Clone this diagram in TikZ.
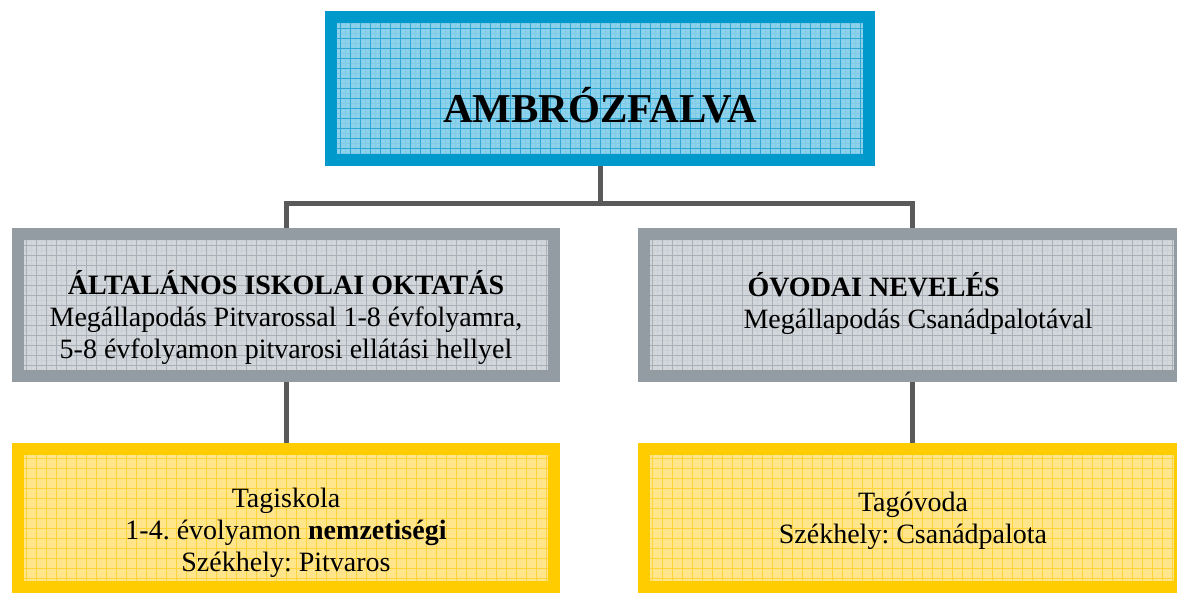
\documentclass[tikz,border=0pt]{standalone}
\usepackage{fontspec}
\setmainfont{Liberation Serif}
\usepackage{tikz}
\usetikzlibrary{positioning,calc}
\usepackage{xcolor}
\definecolor{blueline}{HTML}{0099CC}
\definecolor{bluefill}{HTML}{8CD2EA}
\definecolor{bluemesh}{HTML}{2EA6D6}
\definecolor{grayline}{HTML}{939BA3}
\definecolor{grayfill}{HTML}{D3D7DC}
\definecolor{graymesh}{HTML}{A9B0B8}
\definecolor{yellowline}{HTML}{FFCC00}
\definecolor{yellowfill}{HTML}{FFE68C}
\definecolor{yellowmesh}{HTML}{FFD43A}
\definecolor{linkgray}{HTML}{5A5A5A}
\frenchspacing

\begin{document}
\begin{tikzpicture}[
  x=1pt,y=-1pt,
  box/.style={rectangle,line width=12pt,inner sep=0pt,
              minimum width=536pt,minimum height=142pt},
  meshfill/.style={path picture={
      \draw[#1!60,line width=0.3pt] (path picture bounding box.south west)
        grid[step=5pt] (path picture bounding box.north east);
      \draw[#1,line width=0.6pt] (path picture bounding box.south west)
        grid[step=10pt] (path picture bounding box.north east);}},
  bluebox/.style={box,draw=blueline,fill=bluefill,meshfill=bluemesh},
  graybox/.style={box,draw=grayline,fill=grayfill,meshfill=graymesh},
  yellowbox/.style={box,draw=yellowline,fill=yellowfill,meshfill=yellowmesh},
  txt/.style={align=center,font=\fontsize{28}{32}\selectfont},
  link/.style={draw=linkgray,line width=5pt}
]
\useasboundingbox (0,0) rectangle (1177,594);

\node[bluebox,minimum width=538pt,minimum height=143pt] (falu)   at (600,88.5) {};
\node[graybox]                                          (iskola) at (286,305) {};
\node[graybox]                                          (ovoda)  at (912,305) {};
\node[yellowbox,minimum height=138pt]                   (tagisk) at (286,518) {};
\node[yellowbox,minimum height=138pt]                   (tagovi) at (912,518) {};

\node[font=\fontsize{41}{46}\selectfont\bfseries] (faluT) at (600,105) {AMBRÓZFALVA};
\node[txt] (iskolaT) at (286,318) {\textbf{ÁLTALÁNOS ISKOLAI OKTATÁS}\\
  Megállapodás Pitvarossal 1-8 évfolyamra,\\
  5-8 évfolyamon pitvarosi ellátási hellyel};
\node[txt,align=left,anchor=west] (ovodaT) at (740,304) {\hspace{4pt}\textbf{ÓVODAI NEVELÉS}\\
  Megállapodás Csanádpalotával};
\node[txt] (tagiskT) at (286,533) {Tagiskola\\
  1-4. évolyamon \textbf{nemzetiségi}\\
  Székhely: Pitvaros};
\node[txt] (tagoviT) at (913,521) {Tagóvoda\\
  Székhely: Csanádpalota};

\coordinate (split) at (600,203);
\draw[link] (falu.south) -- (split);
\draw[link] (split) -| (iskola.north);
\draw[link] (split) -| (ovoda.north);
\draw[link] (iskola.south) -- (tagisk.north);
\draw[link] (ovoda.south) -- (tagovi.north);
\end{tikzpicture}
\end{document}
